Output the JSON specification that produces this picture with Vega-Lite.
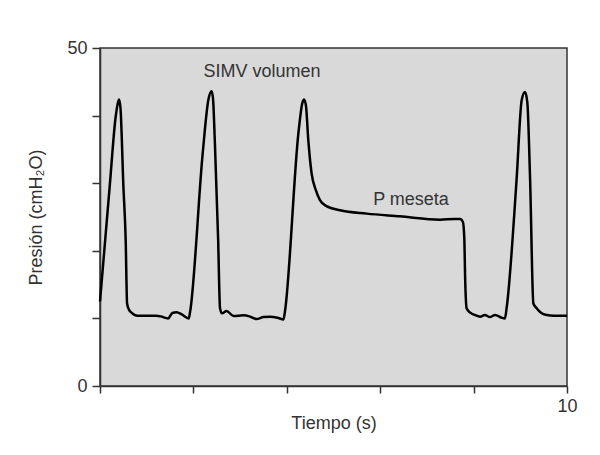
{
  "$schema": "https://vega.github.io/schema/vega-lite/v6.json",
  "autosize": "none",
  "width": 467,
  "height": 338,
  "padding": {"left": 100, "top": 48, "right": 33, "bottom": 69},
  "background": "white",
  "config": {
    "view": {"fill": "#d9d9d9", "stroke": "#333333", "strokeWidth": 1.5},
    "font": "Liberation Sans",
    "axis": {
      "grid": false,
      "domainColor": "#333333",
      "domainWidth": 1.5,
      "tickColor": "#333333",
      "tickWidth": 1.5,
      "labelColor": "#333333",
      "titleColor": "#333333",
      "labelFont": "Liberation Sans",
      "titleFont": "Liberation Sans",
      "labelFontSize": 18,
      "titleFontSize": 18,
      "titleFontWeight": "normal",
      "labelFlush": false
    }
  },
  "datasets": {
    "curve": [
      {"t": 0, "p": 12.5}, {"t": 0.21, "p": 29.7}, {"t": 0.33, "p": 39.5}, {"t": 0.38, "p": 41.8}, {"t": 0.41, "p": 42.4},
      {"t": 0.44, "p": 41.0}, {"t": 0.5, "p": 29.7}, {"t": 0.55, "p": 21.6}, {"t": 0.58, "p": 12.2}, {"t": 0.62, "p": 11.3},
      {"t": 0.7, "p": 10.7}, {"t": 0.8, "p": 10.4}, {"t": 1.0, "p": 10.4}, {"t": 1.2, "p": 10.4}, {"t": 1.3, "p": 10.3},
      {"t": 1.46, "p": 10.0}, {"t": 1.55, "p": 10.8}, {"t": 1.64, "p": 10.9}, {"t": 1.75, "p": 10.6}, {"t": 1.9, "p": 10.0},
      {"t": 1.93, "p": 11.0}, {"t": 2.2, "p": 34.5}, {"t": 2.32, "p": 42.3}, {"t": 2.39, "p": 43.6}, {"t": 2.42, "p": 42.5},
      {"t": 2.46, "p": 36}, {"t": 2.53, "p": 21.6}, {"t": 2.57, "p": 11.5}, {"t": 2.61, "p": 10.75}, {"t": 2.71, "p": 11.1},
      {"t": 2.86, "p": 10.35}, {"t": 3.07, "p": 10.45}, {"t": 3.2, "p": 10.3}, {"t": 3.35, "p": 9.9}, {"t": 3.5, "p": 10.2},
      {"t": 3.64, "p": 10.25}, {"t": 3.8, "p": 10.1}, {"t": 3.93, "p": 9.85}, {"t": 3.96, "p": 11.0}, {"t": 4.25, "p": 37.5},
      {"t": 4.33, "p": 41.8}, {"t": 4.37, "p": 42.4}, {"t": 4.41, "p": 41.5}, {"t": 4.46, "p": 36.4}, {"t": 4.53, "p": 31.5},
      {"t": 4.62, "p": 29.0}, {"t": 4.71, "p": 27.5}, {"t": 4.85, "p": 26.6}, {"t": 5.14, "p": 26.0}, {"t": 5.71, "p": 25.5},
      {"t": 6.42, "p": 25.1}, {"t": 7.28, "p": 24.6}, {"t": 7.6, "p": 24.7}, {"t": 7.71, "p": 24.7}, {"t": 7.77, "p": 24.3},
      {"t": 7.8, "p": 22.0}, {"t": 7.82, "p": 15.7}, {"t": 7.85, "p": 11.5}, {"t": 7.92, "p": 10.9}, {"t": 8.03, "p": 10.5},
      {"t": 8.14, "p": 10.25}, {"t": 8.24, "p": 10.5}, {"t": 8.35, "p": 10.2}, {"t": 8.46, "p": 10.5}, {"t": 8.6, "p": 10.1},
      {"t": 8.67, "p": 10.0}, {"t": 8.71, "p": 11.7}, {"t": 8.92, "p": 30.5}, {"t": 9.03, "p": 42.3}, {"t": 9.1, "p": 43.5},
      {"t": 9.15, "p": 42.0}, {"t": 9.21, "p": 30.5}, {"t": 9.28, "p": 12.2}, {"t": 9.35, "p": 11.5}, {"t": 9.45, "p": 10.8},
      {"t": 9.57, "p": 10.5}, {"t": 9.71, "p": 10.4}, {"t": 10, "p": 10.4}
    ],
    "notes": [
      {"t": 3.47, "p": 45.75, "label": "SIMV volumen"},
      {"t": 6.66, "p": 26.78, "label": "P meseta"}
    ]
  },
  "layer": [
    {
      "data": {"name": "curve"},
      "mark": {"type": "line", "color": "black", "strokeWidth": 2.5, "interpolate": "monotone"},
      "encoding": {
        "x": {
          "field": "t", "type": "quantitative",
          "scale": {"domain": [0, 10], "nice": false, "zero": false},
          "axis": {
            "values": [0, 2, 4, 6, 8, 10],
            "labelExpr": "datum.value == 10 ? '10' : ''",
            "tickSize": 7,
            "labelPadding": 4,
            "title": "Tiempo (s)",
            "titleY": 42,
            "titleBaseline": "alphabetic"
          }
        },
        "y": {
          "field": "p", "type": "quantitative",
          "scale": {"domain": [0, 50], "nice": false},
          "axis": {
            "values": [0, 10, 20, 30, 40, 50],
            "labelExpr": "datum.value == 0 || datum.value == 50 ? datum.label : ''",
            "tickSize": 8,
            "labelPadding": 5,
            "title": "Presión (cmH₂O)",
            "titleX": -64,
            "titleY": 169,
            "titleBaseline": "middle"
          }
        }
      }
    },
    {
      "data": {"name": "notes"},
      "mark": {"type": "text", "fontSize": 18, "color": "#333333", "font": "Liberation Sans", "baseline": "alphabetic", "align": "center"},
      "encoding": {
        "x": {"field": "t", "type": "quantitative"},
        "y": {"field": "p", "type": "quantitative"},
        "text": {"field": "label"}
      }
    }
  ]
}
